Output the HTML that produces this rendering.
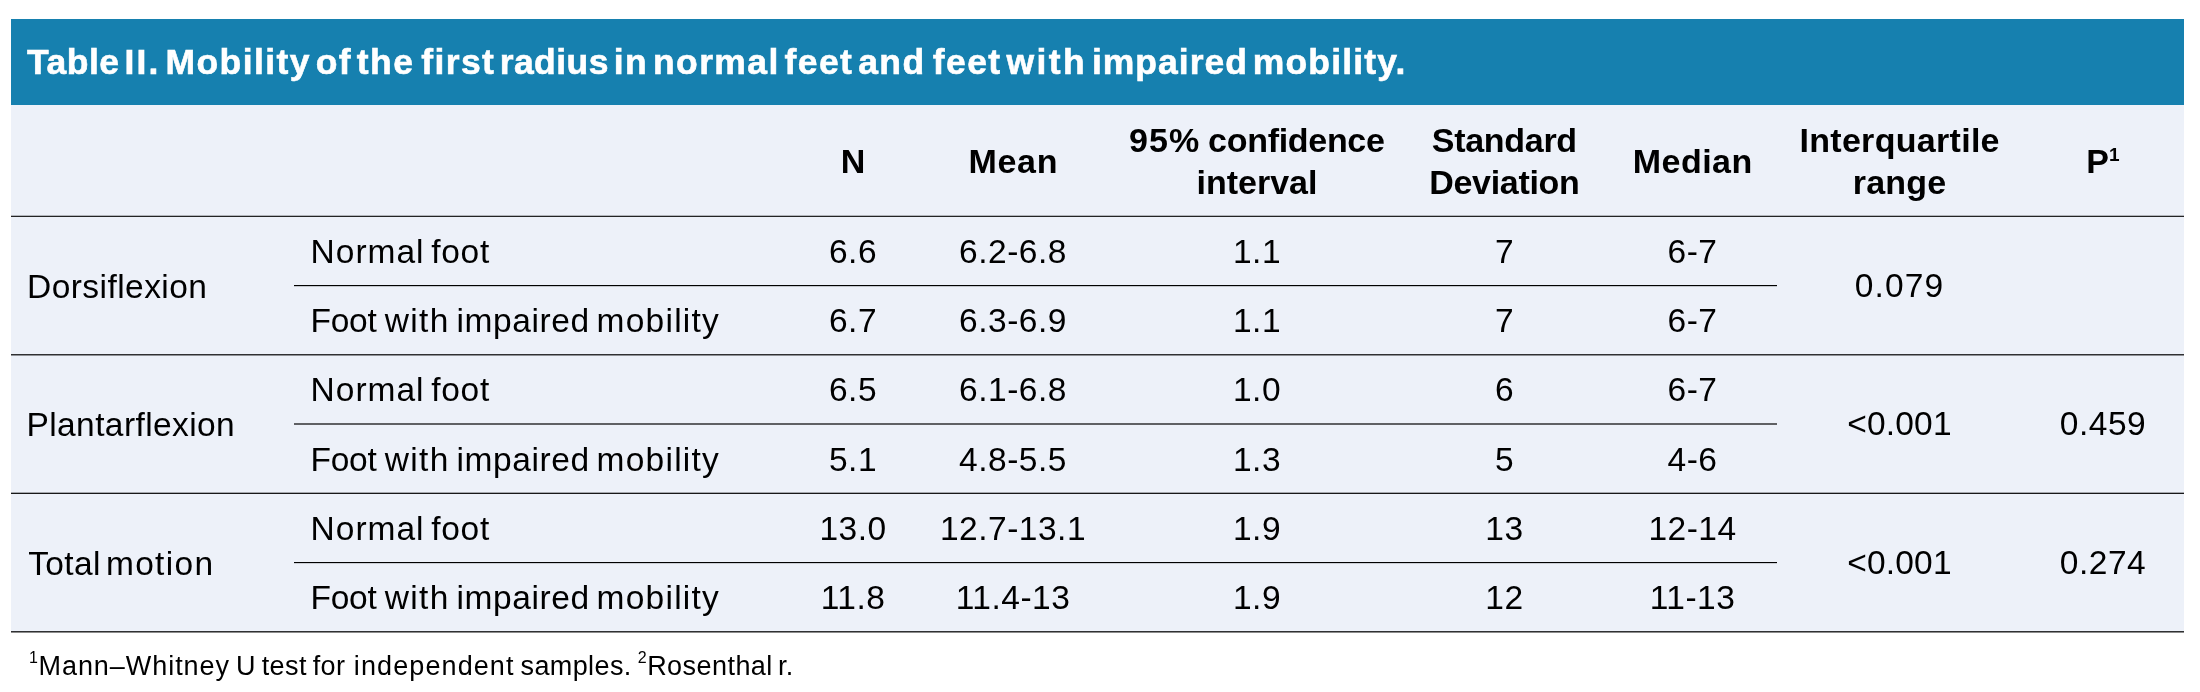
<!DOCTYPE html>
<html lang="en">
<head>
<meta charset="utf-8">
<title>Table II</title>
<style>
*{margin:0;padding:0;box-sizing:border-box}
html,body{width:2200px;height:692px;background:#fff;overflow:hidden}
body{font-family:"Liberation Sans",sans-serif;color:#000;position:relative}
.wrap{position:absolute;left:11px;top:19px;width:2173px;will-change:transform}
.title{height:86px;background:#1680af;color:#fff;font-weight:bold;font-size:35.5px;line-height:86px;padding-left:16px;white-space:nowrap;letter-spacing:1.4px;word-spacing:-6.4px;-webkit-text-stroke:.6px #fff}
table{border-collapse:separate;border-spacing:0;table-layout:fixed;width:2173px;background:#edf1f9;border-bottom:1px solid transparent}
th,td{font-size:33px;text-align:center;vertical-align:middle;white-space:nowrap;overflow:visible;padding:0}
th{font-weight:bold;font-size:34px;height:111px;line-height:42px;padding-top:0}
th .a{letter-spacing:.7px;margin-right:-.7px}
th .b{letter-spacing:.3px;margin-right:-.3px}
th .c{letter-spacing:-.3px;margin-right:.3px}
th .d{letter-spacing:.45px;margin-right:-.45px}
th .e{letter-spacing:.2px;margin-right:-.2px}
td{font-weight:normal;font-size:33.5px;line-height:40px;letter-spacing:.5px;padding-top:2px}
td[rowspan]{padding-top:0}
tbody td{border-top:1px solid transparent}
td.l{text-align:left;padding-left:16.6px}
td.g{padding-top:2px}
td.f{word-spacing:-3px}
tr.r69 td{height:69px}
tr.r70 td{height:70px}
.hr{position:absolute;height:2px;left:0;width:2173px;pointer-events:none}
.hr.in{left:283px;width:1483px}
sup.p{font-size:19px;line-height:0;vertical-align:baseline;position:relative;top:-12px;margin-left:0}
.foot{will-change:transform;position:absolute;left:29px;top:645.5px;font-size:27px;line-height:40px;white-space:nowrap;letter-spacing:.4px;word-spacing:-2px}
.foot sup{font-size:16px;line-height:0;vertical-align:baseline;position:relative;top:-12.5px;margin-right:.2px}
</style>
</head>
<body>
<div class="wrap">
<div class="title"><span style="letter-spacing:.5px">Table</span> <span style="letter-spacing:2.2px">II.</span> Mobility of the <span style="margin-left:2px;margin-right:-.5px">first</span> <span style="letter-spacing:.45px">radius</span> in normal feet and <span style="margin-left:2.5px">feet</span> <span style="letter-spacing:2.4px">with</span> <span style="letter-spacing:1px">impaired</span> <span style="letter-spacing:1.15px">mobility.</span></div>
<table>
<colgroup>
<col style="width:283px"><col style="width:499px"><col style="width:120px"><col style="width:200px"><col style="width:288px"><col style="width:207px"><col style="width:169px"><col style="width:245px"><col style="width:162px">
</colgroup>
<thead>
<tr><th></th><th></th><th>N</th><th><span class="a">Mean</span></th><th><span style="word-spacing:-1.5px"><span style="letter-spacing:1px">95%</span> <span style="letter-spacing:-.3px;margin-right:.3px">confidence</span></span><br>interval</th><th><span class="c">Standard</span><br><span class="c">Deviation</span></th><th><span class="d">Median</span></th><th><span class="b">Interquartile</span><br><span class="e">range</span></th><th>P<sup class="p">1</sup></th></tr>
</thead>
<tbody>
<tr class="r69"><td class="l g" rowspan="2" style="padding-left:16px;letter-spacing:.45px">Dorsiflexion</td><td class="l" style="word-spacing:-3.2px"><span style="letter-spacing:1px">Normal</span> <span style="letter-spacing:.75px">foot</span></td><td>6.6</td><td>6.2-6.8</td><td>1.1</td><td>7</td><td>6-7</td><td rowspan="2" style="letter-spacing:1.1px">0.079</td><td rowspan="2"></td></tr>
<tr class="r69"><td class="l f"><span style="letter-spacing:-.3px;margin-right:1.6px">Foot</span> <span style="letter-spacing:1.3px">with</span> <span style="letter-spacing:.6px">impaired</span> <span style="letter-spacing:1.25px">mobility</span></td><td>6.7</td><td>6.3-6.9</td><td>1.1</td><td>7</td><td>6-7</td></tr>
<tr class="r69"><td class="l g" rowspan="2" style="padding-left:15.5px;letter-spacing:.4px">Plantarflexion</td><td class="l" style="word-spacing:-3.2px"><span style="letter-spacing:1px">Normal</span> <span style="letter-spacing:.75px">foot</span></td><td>6.5</td><td>6.1-6.8</td><td>1.0</td><td>6</td><td>6-7</td><td rowspan="2" style="letter-spacing:.2px">&lt;0.001</td><td rowspan="2">0.459</td></tr>
<tr class="r70"><td class="l f"><span style="letter-spacing:-.3px;margin-right:1.6px">Foot</span> <span style="letter-spacing:1.3px">with</span> <span style="letter-spacing:.6px">impaired</span> <span style="letter-spacing:1.25px">mobility</span></td><td>5.1</td><td>4.8-5.5</td><td>1.3</td><td>5</td><td>4-6</td></tr>
<tr class="r69"><td class="l g" rowspan="2" style="padding-left:17.2px;word-spacing:-4.8px"><span style="letter-spacing:.4px">Total</span> <span style="letter-spacing:1.3px">motion</span></td><td class="l" style="word-spacing:-3.2px"><span style="letter-spacing:1px">Normal</span> <span style="letter-spacing:.75px">foot</span></td><td>13.0</td><td>12.7-13.1</td><td>1.9</td><td>13</td><td>12-14</td><td rowspan="2" style="letter-spacing:.2px">&lt;0.001</td><td rowspan="2">0.274</td></tr>
<tr class="r69"><td class="l f"><span style="letter-spacing:-.3px;margin-right:1.6px">Foot</span> <span style="letter-spacing:1.3px">with</span> <span style="letter-spacing:.6px">impaired</span> <span style="letter-spacing:1.25px">mobility</span></td><td>11.8</td><td>11.4-13</td><td>1.9</td><td>12</td><td>11-13</td></tr>
</tbody>
</table>
<div class="hr" style="top:196px;background:linear-gradient(to bottom,rgba(0,0,0,0.25) 0,rgba(0,0,0,0.25) 1px,rgba(0,0,0,0.85) 1px,rgba(0,0,0,0.85) 2px)"></div>
<div class="hr in" style="top:266px;background:linear-gradient(to bottom,rgba(0,0,0,1) 0,rgba(0,0,0,1) 1px,rgba(0,0,0,0.18) 1px,rgba(0,0,0,0.18) 2px)"></div>
<div class="hr" style="top:335px;background:linear-gradient(to bottom,rgba(0,0,0,0.8) 0,rgba(0,0,0,0.8) 1px,rgba(0,0,0,0.4) 1px,rgba(0,0,0,0.4) 2px)"></div>
<div class="hr in" style="top:404px;background:linear-gradient(to bottom,rgba(0,0,0,0.6) 0,rgba(0,0,0,0.6) 1px,rgba(0,0,0,0.6) 1px,rgba(0,0,0,0.6) 2px)"></div>
<div class="hr" style="top:473px;background:linear-gradient(to bottom,rgba(0,0,0,0.3) 0,rgba(0,0,0,0.3) 1px,rgba(0,0,0,0.9) 1px,rgba(0,0,0,0.9) 2px)"></div>
<div class="hr in" style="top:543px;background:linear-gradient(to bottom,rgba(0,0,0,1) 0,rgba(0,0,0,1) 1px,rgba(0,0,0,0.15) 1px,rgba(0,0,0,0.15) 2px)"></div>
<div class="hr" style="top:612px;background:linear-gradient(to bottom,rgba(0,0,0,0.8) 0,rgba(0,0,0,0.8) 1px,rgba(0,0,0,0.45) 1px,rgba(0,0,0,0.45) 2px)"></div>
</div>
<div class="foot"><sup>1</sup><span style="letter-spacing:.95px">Mann–Whitney</span> U test for <span style="letter-spacing:1.1px;margin-left:2.5px">independent</span> samples. <sup>2</sup><span style="letter-spacing:.45px">Rosenthal</span> <span style="margin-left:-.8px">r.</span></div>
</body>
</html>
